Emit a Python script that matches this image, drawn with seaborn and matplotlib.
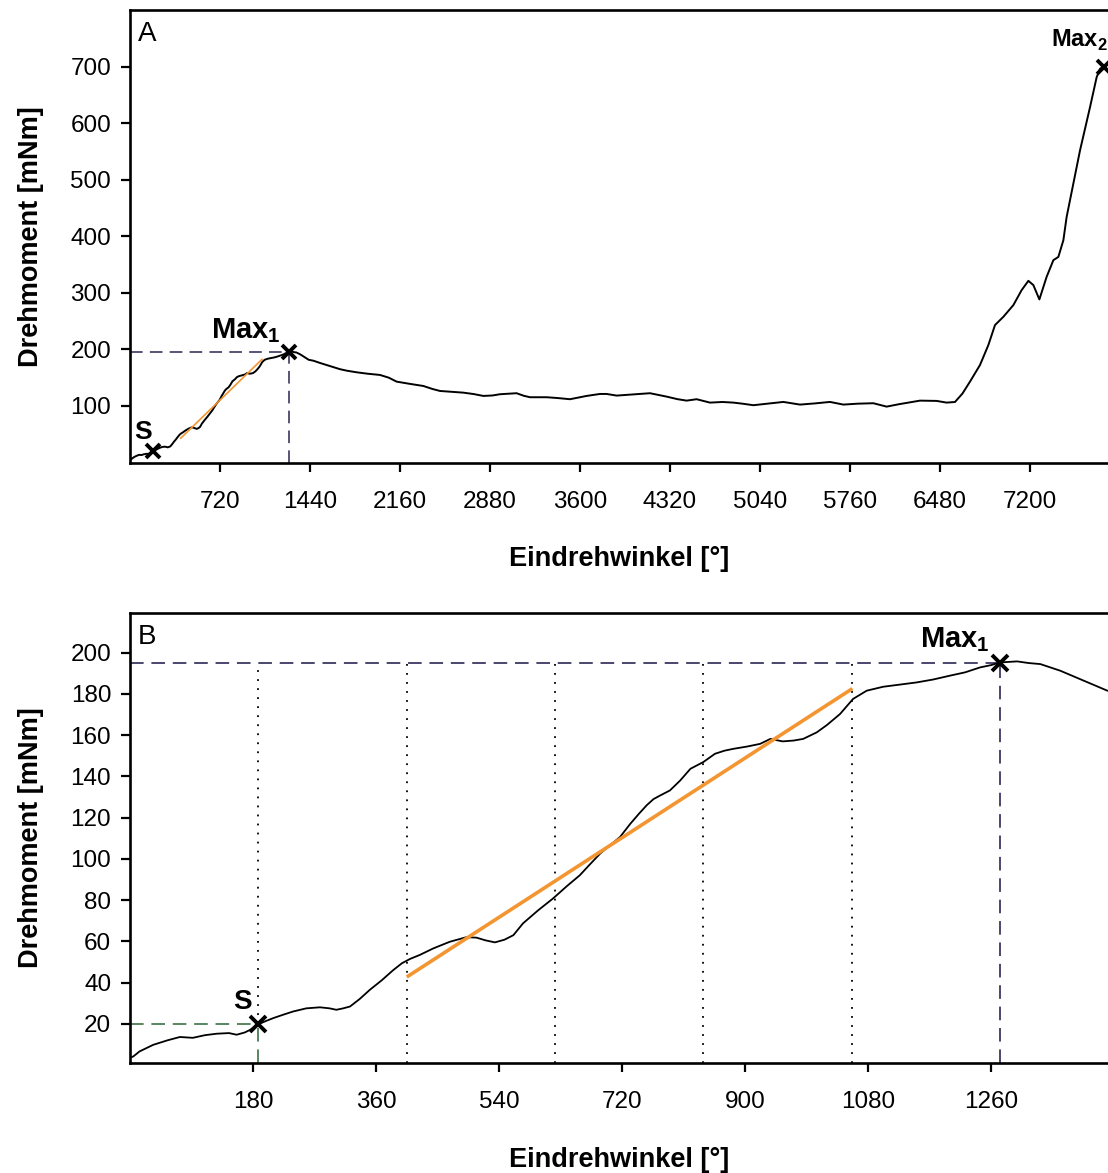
import matplotlib
matplotlib.use("Agg")
import matplotlib.pyplot as plt
import numpy as np
import pandas as pd
import seaborn as sns

# Messkurve: Eindrehwinkel [°] und Drehmoment [mNm]
winkel = [0, 5, 14, 34, 55, 73, 92, 110, 127, 145, 156, 168, 176, 188, 200, 210,
          225, 239, 258, 278, 292, 302, 312, 322, 336, 351, 368, 385, 398, 410,
          424, 444, 468, 492, 507, 520, 534, 548, 561, 575, 597, 619, 640, 658,
          672, 688, 702, 717, 732, 745, 756, 766, 776, 790, 805, 820, 839, 856,
          870, 883, 903, 922, 937, 955, 971, 985, 1005, 1020, 1039, 1058, 1078,
          1102, 1125, 1151, 1175, 1200, 1222, 1244, 1260, 1273, 1298, 1315, 1332,
          1361, 1395, 1430, 1467, 1520, 1600, 1680, 1733, 1813, 1900, 2000, 2070,
          2133, 2240, 2347, 2420, 2480, 2580, 2667, 2750, 2827, 2900, 2960, 3093,
          3150, 3200, 3333, 3420, 3520, 3653, 3760, 3813, 3893, 4000, 4160, 4293,
          4380, 4453, 4533, 4640, 4740, 4827, 4900, 4987, 5100, 5227, 5360, 5480,
          5600, 5707, 5820, 5947, 6053, 6150, 6320, 6453, 6533, 6600, 6660, 6720,
          6800, 6867, 6920, 6987, 7067, 7133, 7187, 7227, 7275, 7333, 7387, 7427,
          7467, 7493, 7520, 7600, 7680, 7733, 7760, 7790]
moment = [3.5, 4.2, 6.6, 9.8, 12, 13.6, 13.2, 14.5, 15.2, 15.5, 14.7, 15.8, 17.1,
          19.8, 21.5, 22.8, 24.5, 26, 27.5, 28, 27.5, 26.8, 27.5, 28.4, 32, 36.5,
          41, 46, 49.4, 51.5, 53.4, 56.6, 59.8, 62, 61.8, 60.5, 59.5, 60.8, 63,
          68.7, 75, 80.8, 87, 92, 97, 102.6, 106.5, 110.6, 117, 122, 126, 129,
          130.8, 133.2, 138, 143.7, 147, 151, 152.5, 153.4, 154.5, 155.8, 158.2,
          157, 157.4, 158.2, 161.4, 165, 170.3, 177.6, 181.6, 183.5, 184.5, 185.6,
          187, 188.9, 190.5, 192.9, 194, 195.3, 195.8, 195, 194.5, 191.3, 186.5,
          181.6, 180, 176, 170.6, 165, 162.4, 159.5, 157, 154.8, 150, 143, 139,
          135.3, 130, 126.5, 124.8, 123.5, 121, 117.7, 118.5, 120.7, 122.5, 118,
          115.4, 115.4, 114, 111.9, 117.7, 121.2, 121.2, 118.3, 120, 122.5, 116.5,
          112, 109.4, 111.9, 105.9, 107, 105.9, 104, 101.3, 104, 107.1, 102.4,
          104.5, 107.1, 102.4, 104, 104.8, 98.8, 103, 109.4, 108.9, 105.9, 107,
          122, 143, 172.4, 207.7, 243, 257.6, 278.3, 304.7, 321.2, 313.6, 288.3,
          328.2, 357.7, 363.5, 393, 434, 463.6, 551.6, 628, 681, 696, 700]

s_punkt = (188, 20)
max1_punkt = (1273, 195)
max2_punkt = (7790, 700)

# Regressionsgerade zwischen 20 % und 80 % des Bereichs S..Max1
fit_x = [405, 1057]
fit_y = [42.7, 182.6]

xticks_a = [720, 1440, 2160, 2880, 3600, 4320, 5040, 5760, 6480, 7200]
yticks_a = [100, 200, 300, 400, 500, 600, 700]
xticks_b = [180, 360, 540, 720, 900, 1080, 1260]
yticks_b = [20, 40, 60, 80, 100, 120, 140, 160, 180, 200]

df = pd.DataFrame({"winkel": winkel, "moment": moment})

sns.set_theme(style="ticks")
plt.rcParams["font.family"] = ["Liberation Sans", "DejaVu Sans"]
plt.rcParams["mathtext.fontset"] = "custom"
plt.rcParams["mathtext.rm"] = "Liberation Sans"
plt.rcParams["mathtext.bf"] = "Liberation Sans:bold"
plt.rcParams["text.color"] = "black"
plt.rcParams["axes.labelcolor"] = "black"

DASH_MAX = "#4a466c"
DASH_S = "#578561"
ORANGE = "#f39632"

fig = plt.figure(figsize=(11.08, 11.73), dpi=100)
ax_a = fig.add_axes([0.1173, 0.6057, 0.8827, 0.3858])
ax_b = fig.add_axes([0.1173, 0.0938, 0.8827, 0.3840])


def style_axes(ax, xticks, yticks):
    for side in ["left", "bottom", "top"]:
        ax.spines[side].set_linewidth(1.9)
        ax.spines[side].set_color("black")
    ax.spines["right"].set_visible(False)
    ax.set_xticks(xticks)
    ax.set_yticks(yticks)
    ax.tick_params(axis="both", direction="out", length=6.5, width=1.6,
                   labelsize=17.5, colors="black", top=False, right=False)
    ax.tick_params(axis="x", pad=14)
    ax.tick_params(axis="y", pad=7)
    ax.set_xlabel("Eindrehwinkel [°]", fontsize=19.5, fontweight="bold", labelpad=24)
    ax.set_ylabel("Drehmoment [mNm]", fontsize=19.5, fontweight="bold", labelpad=19)
    ax.grid(False)


# ---------- Panel A ----------
ax = ax_a
ax.set_xlim(0, 7824)
ax.set_ylim(0, 800)
ax.plot([0, max1_punkt[0]], [max1_punkt[1], max1_punkt[1]], color=DASH_MAX,
        lw=1.3, dashes=(7, 4))
ax.plot([max1_punkt[0], max1_punkt[0]], [0, max1_punkt[1]], color=DASH_MAX,
        lw=1.3, dashes=(7, 4))
sns.lineplot(data=df, x="winkel", y="moment", ax=ax, color="black", lw=1.4,
             estimator=None, sort=False)
ax.plot(fit_x, fit_y, color=ORANGE, lw=1.2)
for p in [s_punkt, max1_punkt, max2_punkt]:
    ax.plot(*p, marker="x", ms=10, mew=2.8, color="black", clip_on=False)
ax.annotate("S", s_punkt, xytext=(-10, 19), textcoords="offset pixels",
            ha="center", va="center", fontsize=19, fontweight="bold")
ax.annotate(r"Max$_\mathbf{1}$", max1_punkt, xytext=(-8, 14), textcoords="offset pixels",
            ha="right", va="baseline", fontsize=21, fontweight="bold")
ax.annotate(r"Max$_\mathbf{2}$", max2_punkt, xytext=(4, 20), textcoords="offset pixels",
            ha="right", va="baseline", fontsize=17, fontweight="bold")
ax.text(0.008, 0.975, "A", transform=ax.transAxes, ha="left", va="top", fontsize=20)
style_axes(ax, xticks_a, yticks_a)

# ---------- Panel B ----------
ax = ax_b
ax.set_xlim(0, 1431)
ax.set_ylim(1, 219.5)
y_unten = 1
teil = (max1_punkt[0] - s_punkt[0]) / 5
for k in range(5):
    xv = s_punkt[0] + k * teil
    y_ende = s_punkt[1] if k == 0 else y_unten
    ax.plot([xv, xv], [y_ende, max1_punkt[1]], color="black", lw=1.3,
            linestyle=(0, (1, 4)))
ax.plot([0, max1_punkt[0]], [max1_punkt[1], max1_punkt[1]], color=DASH_MAX,
        lw=1.4, dashes=(7, 4))
ax.plot([max1_punkt[0], max1_punkt[0]], [y_unten, max1_punkt[1]], color=DASH_MAX,
        lw=1.4, dashes=(7, 4))
ax.plot([0, s_punkt[0]], [s_punkt[1], s_punkt[1]], color=DASH_S, lw=1.4, dashes=(7, 4))
ax.plot([s_punkt[0], s_punkt[0]], [y_unten, s_punkt[1]], color=DASH_S, lw=1.4,
        dashes=(7, 4))
sns.lineplot(data=df, x="winkel", y="moment", ax=ax, color="black", lw=1.3,
             estimator=None, sort=False)
ax.plot(fit_x, fit_y, color=ORANGE, lw=2.6, solid_capstyle="butt")
for p in [s_punkt, max1_punkt]:
    ax.plot(*p, marker="x", ms=11, mew=2.8, color="black")
ax.annotate("S", s_punkt, xytext=(-16, 22), textcoords="offset pixels",
            ha="center", va="center", fontsize=20, fontweight="bold")
ax.annotate(r"Max$_\mathbf{1}$", max1_punkt, xytext=(-10, 16), textcoords="offset pixels",
            ha="right", va="baseline", fontsize=21, fontweight="bold")
ax.text(0.008, 0.975, "B", transform=ax.transAxes, ha="left", va="top", fontsize=20)
style_axes(ax, xticks_b, yticks_b)

fig.savefig("out.png", dpi=100, facecolor="white")
